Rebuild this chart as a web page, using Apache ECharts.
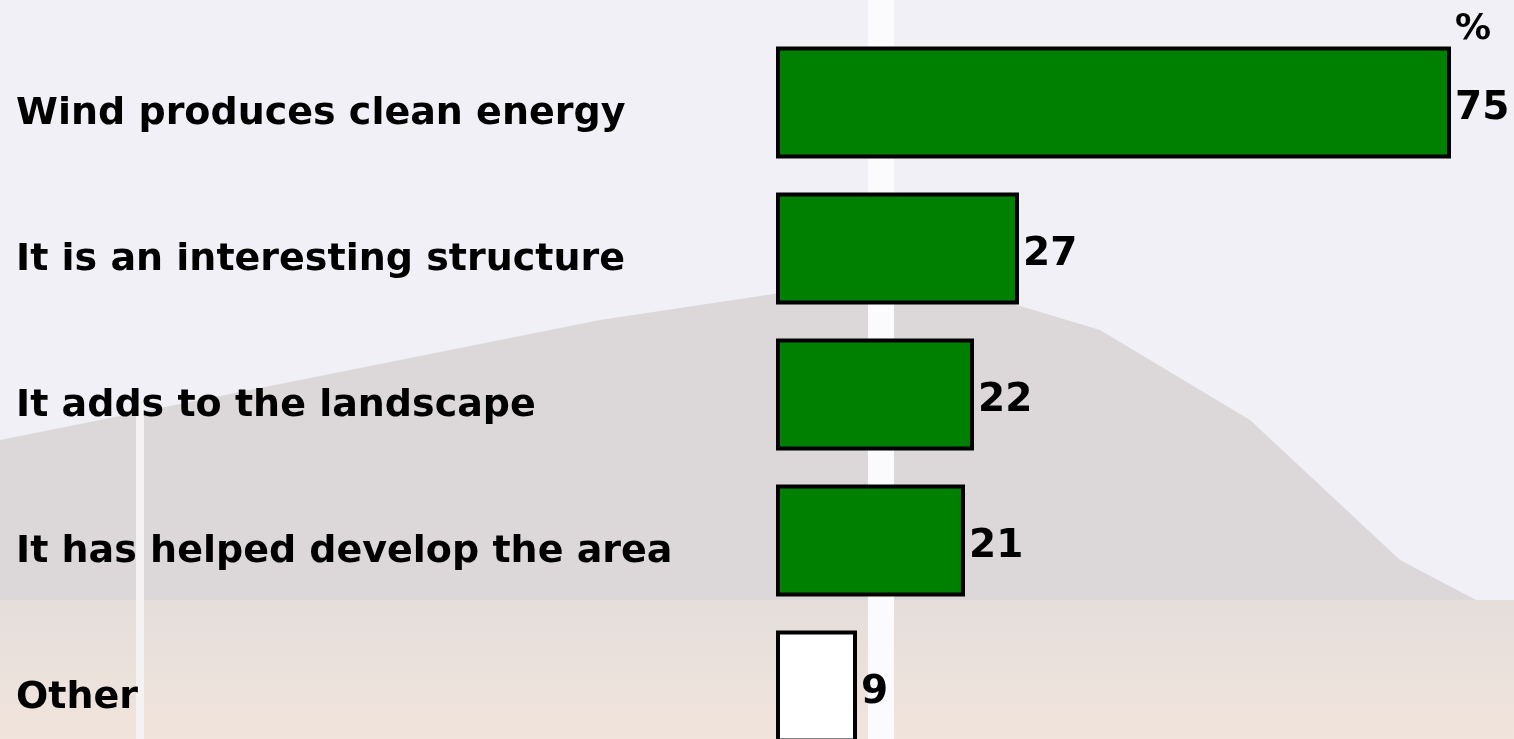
<!DOCTYPE html>
<html>
<head>
<meta charset="utf-8">
<script src="https://cdn.jsdelivr.net/npm/echarts@6/dist/echarts.min.js"></script>
<style>html,body{margin:0;padding:0;background:#f0f0f6;}#c{width:1514px;height:739px;}</style>
</head>
<body>
<div id="c"></div>
<script>
const categories = ['Wind produces clean energy', 'It is an interesting structure', 'It adds to the landscape', 'It has helped develop the area', 'Other'];
const values = [75, 27, 22, 21, 9];
const barColors = ['#008000', '#008000', '#008000', '#008000', '#ffffff'];
const unitLabel = '%';

const FONT = 'DejaVu Sans';
const chart = echarts.init(document.getElementById('c'), null, {renderer: 'canvas'});
chart.setOption({
  backgroundColor: '#f0f0f6',
  animation: false,
  graphic: [
    {type: 'polygon', z: -10, silent: true,
     shape: {points: [[0,440],[300,380],[600,320],[800,290],[880,282],[1000,300],[1100,330],[1250,420],[1400,560],[1514,620],[1514,739],[0,739]]},
     style: {fill: '#dcd8d9'}},
    {type: 'rect', z: -9, silent: true, shape: {x: 0, y: 600, width: 1514, height: 139},
     style: {fill: {type: 'linear', x: 0, y: 0, x2: 0, y2: 1, colorStops: [{offset: 0, color: '#e5dedb'}, {offset: 1, color: '#f1e4dc'}]}}},
    {type: 'rect', z: -8, silent: true, shape: {x: 868, y: 0, width: 26, height: 739}, style: {fill: '#fbfbfd'}},
    {type: 'rect', z: -8, silent: true, shape: {x: 136, y: 400, width: 8, height: 339}, style: {fill: '#f4f2f2'}}
  ],
  grid: {left: 776, width: 675, top: 29.5, height: 730, containLabel: false, outerBoundsMode: 'none'},
  xAxis: {
    type: 'value', position: 'top', min: 0, max: 75,
    axisLine: {show: false}, axisTick: {show: false}, axisLabel: {show: false}, splitLine: {show: false},
    name: unitLabel, nameLocation: 'end', nameGap: 4,
    nameTextStyle: {fontFamily: FONT, fontWeight: 'bold', fontSize: 36, color: '#000', verticalAlign: 'middle', align: 'left'}
  },
  yAxis: {
    type: 'category', data: categories, inverse: true,
    axisLine: {show: false}, axisTick: {show: false},
    axisLabel: {align: 'left', verticalAlign: 'top', lineHeight: 24, margin: 760, fontFamily: FONT, fontWeight: 'bold', fontSize: 38, color: '#000'}
  },
  series: [{
    type: 'bar', barWidth: 112,
    data: values.map((v, i) => ({value: v, itemStyle: {color: barColors[i]}})),
    itemStyle: {borderColor: '#000', borderWidth: 4},
    label: {show: true, position: 'right', distance: 4, verticalAlign: 'top', lineHeight: 12, fontFamily: FONT, fontWeight: 'bold', fontSize: 39, color: '#000'}
  }]
});
</script>
</body>
</html>
